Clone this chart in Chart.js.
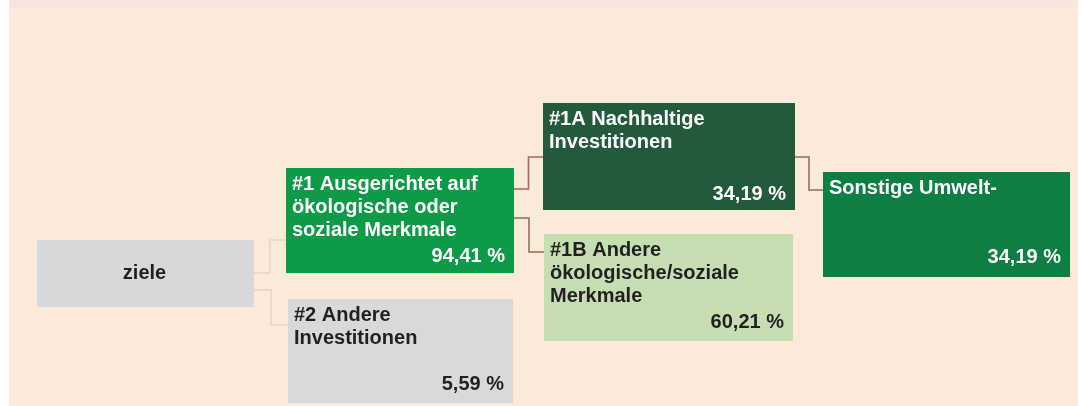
<!DOCTYPE html>
<html>
<head>
<meta charset="utf-8">
<script src="https://cdn.jsdelivr.net/npm/chart.js@4"></script>
<style>
  html, body { margin: 0; padding: 0; background: #ffffff; }
  #wrap { width: 1083px; height: 406px; position: relative; }
</style>
</head>
<body>
<div id="wrap"><canvas id="treeChart"></canvas></div>
<script>
// Node texts, shares and tree structure
const nodeLabels = [
    ['ziele'],
    ['#1 Ausgerichtet auf', 'ökologische oder', 'soziale Merkmale'],
    ['#2 Andere', 'Investitionen'],
    ['#1A Nachhaltige', 'Investitionen'],
    ['#1B Andere', 'ökologische/soziale', 'Merkmale'],
    ['Sonstige Umwelt-']
];
const nodeShares = [null, 94.41, 5.59, 34.19, 60.21, 34.19];
const nodeParents = [null, 0, 0, 1, 1, 3];

// Layout of the boxes (page units, same as the hidden axes)
const boxLayout = [
    { x0: 37,  y0: 240, x1: 254,  y1: 307, fill: '#d8d8da', text: '#231f20', center: true, outY: [273, 290] },
    { x0: 286, y0: 168, x1: 514,  y1: 273, fill: '#0f9a48', text: '#ffffff', inY: 240, outY: [189, 218], valueY: 262 },
    { x0: 288, y0: 299, x1: 513,  y1: 403, fill: '#d9d9d9', text: '#231f20', inY: 325, valueY: 390 },
    { x0: 543, y0: 103, x1: 795,  y1: 210, fill: '#225a3b', text: '#ffffff', inY: 157, outY: [157], valueY: 200 },
    { x0: 544, y0: 234, x1: 793,  y1: 341, fill: '#c5dfb3', text: '#231f20', inY: 252, valueY: 328 },
    { x0: 823, y0: 172, x1: 1070, y1: 277, fill: '#0e7f43', text: '#ffffff', inY: 190, valueY: 263 }
];

function formatShare(value) {
    return value.toFixed(2).replace('.', ',') + ' %';
}

// Build the elbow connectors as stepped line datasets
const linkDatasets = [];
const childCount = {};
nodeParents.forEach(function(parent, i) {
    if (parent === null) return;
    const k = childCount[parent] || 0;
    childCount[parent] = k + 1;
    const p = boxLayout[parent];
    const c = boxLayout[i];
    linkDatasets.push({
        type: 'line',
        data: [{ x: p.x1, y: p.outY[k] }, { x: c.x0, y: c.inY }],
        borderColor: parent === 0 ? '#e6d3c6' : '#9c6a5c',
        borderWidth: parent === 0 ? 1.5 : 1.6,
        stepped: 'middle',
        pointRadius: 0,
        fill: false
    });
});

const FONT = 'bold 20px "Liberation Sans", Arial, Helvetica, sans-serif';

const backgroundPlugin = {
    id: 'pageBackground',
    beforeDraw(chart) {
        const ctx = chart.ctx;
        const xs = chart.scales.x, ys = chart.scales.y;
        ctx.save();
        ctx.fillStyle = '#ffffff';
        ctx.fillRect(0, 0, chart.width, chart.height);
        const l = xs.getPixelForValue(9), r = xs.getPixelForValue(1078);
        ctx.fillStyle = '#fbe9d9';
        ctx.fillRect(l, ys.getPixelForValue(0), r - l, ys.getPixelForValue(406) - ys.getPixelForValue(0));
        ctx.fillStyle = '#f5e7dd';
        ctx.fillRect(l, ys.getPixelForValue(0), r - l, ys.getPixelForValue(8) - ys.getPixelForValue(0));
        ctx.restore();
    }
};

const boxPlugin = {
    id: 'treeBoxes',
    afterDatasetsDraw(chart) {
        const ctx = chart.ctx;
        const xs = chart.scales.x, ys = chart.scales.y;
        ctx.save();
        boxLayout.forEach(function(b, i) {
            const x0 = xs.getPixelForValue(b.x0), x1 = xs.getPixelForValue(b.x1);
            const y0 = ys.getPixelForValue(b.y0), y1 = ys.getPixelForValue(b.y1);
            ctx.fillStyle = b.fill;
            ctx.fillRect(x0, y0, x1 - x0, y1 - y0);
            ctx.font = FONT;
            ctx.fillStyle = b.text;
            ctx.textBaseline = 'alphabetic';
            if (b.center) {
                ctx.textAlign = 'center';
                ctx.fillText(nodeLabels[i][0], (x0 + x1) / 2 - 1, (y0 + y1) / 2 + 5);
                return;
            }
            ctx.textAlign = 'left';
            nodeLabels[i].forEach(function(line, j) {
                ctx.fillText(line, x0 + 6, y0 + 22 + j * 23);
            });
            if (nodeShares[i] !== null) {
                ctx.textAlign = 'right';
                ctx.fillText(formatShare(nodeShares[i]), x1 - 9, ys.getPixelForValue(b.valueY));
            }
        });
        ctx.restore();
    }
};

new Chart(document.getElementById('treeChart').getContext('2d'), {
    type: 'scatter',
    data: { datasets: linkDatasets },
    options: {
        responsive: true,
        maintainAspectRatio: false,
        animation: false,
        layout: { padding: 0 },
        plugins: {
            legend: { display: false },
            tooltip: { enabled: false }
        },
        scales: {
            x: { type: 'linear', min: 0, max: 1083, display: false },
            y: { type: 'linear', min: 0, max: 406, reverse: true, display: false }
        }
    },
    plugins: [backgroundPlugin, boxPlugin]
});
</script>
</body>
</html>
